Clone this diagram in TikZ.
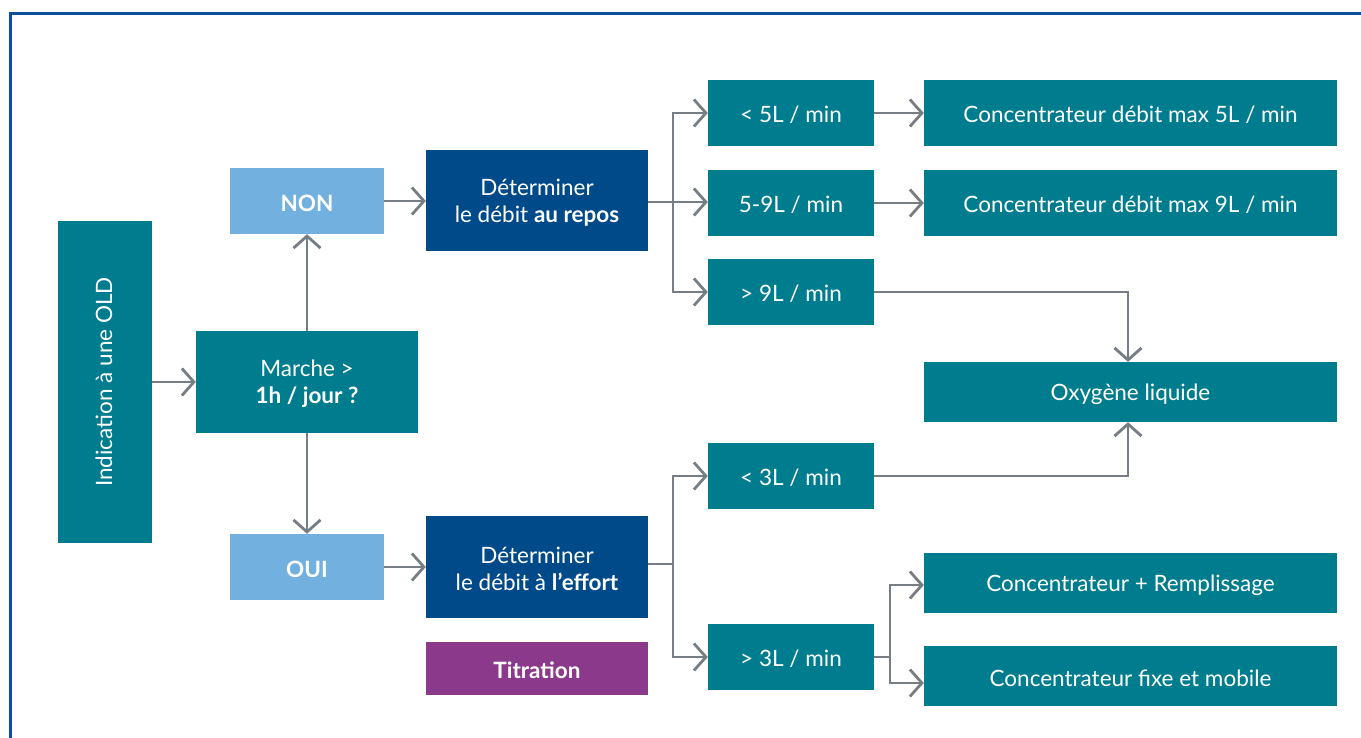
\documentclass[tikz,border=0pt]{standalone}
\usepackage{fontspec}
\setmainfont{Lato}
\usetikzlibrary{arrows.meta}
\definecolor{teal1}{HTML}{007C8F}
\definecolor{dblue}{HTML}{004A8A}
\definecolor{lblue}{HTML}{72B0E0}
\definecolor{purp}{HTML}{8B3A8B}
\definecolor{conn}{HTML}{767D85}
\definecolor{frame}{HTML}{0B4F9A}
\tikzset{
  box/.style={draw=none, inner sep=0pt, text=white, align=center, font=\fontsize{22.5}{27}\selectfont},
  tealbox/.style={box, fill=teal1},
  dbluebox/.style={box, fill=dblue},
  lbluebox/.style={box, fill=lblue, font=\fontsize{22.5}{27}\selectfont\bfseries},
  purpbox/.style={box, fill=purp, font=\fontsize{22.5}{27}\selectfont\bfseries},
  link/.style={draw=conn, line width=2.8pt, -{Straight Barb[length=12pt,width=27pt]}},
  plain/.style={draw=conn, line width=2.8pt},
}
\newcommand{\bx}[7]{%
  \node[#6, minimum width={(#4-#2)*1pt}, minimum height={(#5-#3)*1pt}] (#1) at ({(#2+#4)/2},{(#3+#5)/2}) {};
  \node[#6, fill=none, anchor=center] (#1-t) at ([yshift=-2pt]#1.center) {#7};}
\begin{document}
\begin{tikzpicture}[x=1pt,y=-1pt]
\useasboundingbox (0,0) rectangle (1361,738);
\fill[white] (0,0) rectangle (1361,738);
\draw[frame, line width=3pt] (10,738) -- (10,14) -- (1361,14);

\bx{ind}{58}{221}{152}{543}{tealbox}{}
\node[text=white, rotate=90, font=\fontsize{22.5}{27}\selectfont] (indt) at ([xshift=-1pt]ind.center) {Indication à une OLD};
\bx{non}{230}{168}{384}{234}{lbluebox}{NON}
\bx{marche}{196}{331}{418}{433}{tealbox}{Marche >\\\textbf{1h / jour ?}}
\bx{oui}{230}{534}{384}{600}{lbluebox}{OUI}
\bx{repos}{426}{150}{648}{251}{dbluebox}{Déterminer\\le débit \textbf{au repos}}
\bx{effort}{426}{516}{648}{618}{dbluebox}{Déterminer\\le débit à \textbf{l’effort}}
\bx{titr}{426}{642}{648}{695}{purpbox}{Titration}
\bx{a}{708}{80}{874}{146}{tealbox}{< 5L / min}
\bx{b}{708}{170}{874}{236}{tealbox}{5-9L / min}
\bx{c}{708}{259}{874}{325}{tealbox}{> 9L / min}
\bx{d}{708}{443}{874}{509}{tealbox}{< 3L / min}
\bx{e}{708}{624}{874}{690}{tealbox}{> 3L / min}
\bx{c5}{924}{80}{1337}{146}{tealbox}{Concentrateur débit max 5L / min}
\bx{c9}{924}{170}{1337}{236}{tealbox}{Concentrateur débit max 9L / min}
\bx{oxy}{924}{362}{1337}{422}{tealbox}{Oxygène liquide}
\bx{rem}{924}{553}{1337}{613}{tealbox}{Concentrateur + Remplissage}
\bx{fix}{924}{646}{1337}{706}{tealbox}{Concentrateur fixe et mobile}

\draw[link] (ind.east |- 0,382) -- (marche.west |- 0,382);
\draw[link] (marche.north -| 307,0) -- (non.south -| 307,0);
\draw[link] (marche.south -| 307,0) -- (oui.north -| 307,0);
\draw[link] (non.east |- 0,201) -- (repos.west |- 0,201);
\draw[link] (oui.east |- 0,567) -- (effort.west |- 0,567);

\coordinate (j1) at (673,202);
\draw[plain] (repos.east |- j1) -- (j1);
\draw[link] (j1) |- (a.west);
\draw[link] (j1) -- (b.west |- j1);
\draw[link] (j1) |- (c.west);

\coordinate (j2) at (673,564);
\draw[plain] (effort.east |- j2) -- (j2);
\draw[link] (j2) |- (d.west);
\draw[link] (j2) |- (e.west);

\draw[link] (a.east) -- (c5.west |- a.east);
\draw[link] (b.east) -- (c9.west |- b.east);
\draw[link] (c.east) -| (oxy.north -| 1128,0);
\draw[link] (d.east) -| (oxy.south -| 1128,0);

\coordinate (j3) at (890,657);
\draw[plain] (e.east) -- (j3);
\draw[link] (j3) |- (rem.west |- 0,585);
\draw[link] (j3) |- (fix.west |- 0,683);
\end{tikzpicture}
\end{document}
